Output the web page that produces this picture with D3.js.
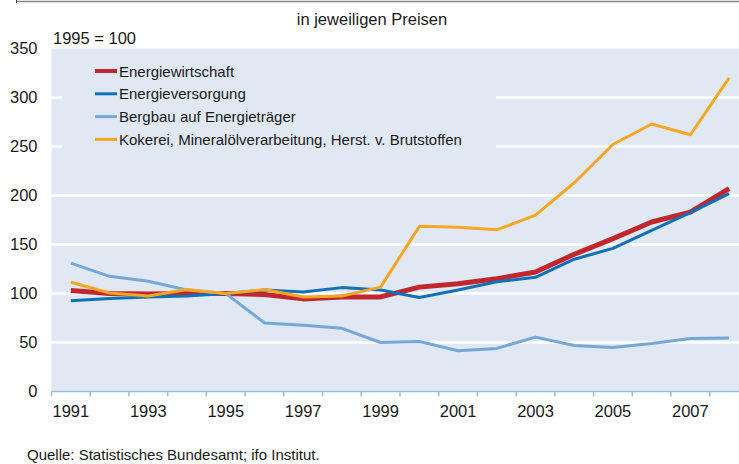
<!doctype HTML>
<html>
<head>
    <meta charset="utf-8">
    <style>
        body { margin: 0; background: #fff; }
        svg text { font-family: "Liberation Sans", Arial, sans-serif; fill: #1a1a1a; }
    </style>
    <script src="https://d3js.org/d3.v7.min.js"></script>
</head>
<body>
<script>
    // data (1995 = 100)
    var years = [1991, 1992, 1993, 1994, 1995, 1996, 1997, 1998, 1999,
                 2000, 2001, 2002, 2003, 2004, 2005, 2006, 2007, 2008];
    var seriesNames = ["Energiewirtschaft", "Energieversorgung", "Bergbau auf Energieträger",
                       "Kokerei, Mineralölverarbeitung, Herst. v. Brutstoffen"];
    var energiewirtschaft = [103, 100, 99.5, 100, 100, 99, 94.5, 96.5, 96.5,
                             106.5, 110, 115, 122, 140, 156, 173, 183, 207];
    var energieversorgung = [92.5, 95, 96.5, 97.5, 100, 103.5, 101.5, 106, 103.5,
                             96, 103.5, 112, 116.5, 135, 146, 164.5, 182.5, 202];
    var bergbau = [131, 117.5, 112.5, 103.5, 100, 70, 67.5, 64.5, 50,
                   51, 41.5, 44, 55.5, 47, 45, 49, 54, 54.5];
    var kokerei = [111.5, 100.5, 97.5, 104, 100, 104, 96.5, 97.5, 106.5,
                   168.5, 167.5, 165, 180, 213, 252, 273, 262, 320];
    var yTicks = [0, 50, 100, 150, 200, 250, 300, 350];
    var gridTicks = [50, 100, 150, 200, 250, 300];

    var colors = ["#c1272d", "#1170b9", "#76a8d7", "#f6a623"];
    var widths = [5, 3, 3, 3];

    var canvasWidth = 739;
    var canvasHeight = 464;

    var svg = d3.select("body").append("svg")
        .attr("width", canvasWidth)
        .attr("height", canvasHeight);

    var left = 51.5, bottom = 391.5;
    var band = 38.72;

    var xScale = d3.scaleBand()
        .domain(years)
        .range([left, left + years.length * band])
        .paddingInner(0).paddingOuter(0);
    var yScale = d3.scaleLinear()
        .domain([0, 350])
        .range([bottom, bottom - 350 * 0.98]);

    // frame line of the box above
    svg.append("line").attr("x1", 16.5).attr("x2", canvasWidth).attr("y1", 1.5).attr("y2", 1.5)
        .attr("stroke", "#8a8a8a").attr("stroke-width", 1.5);
    svg.append("line").attr("x1", 16.5).attr("x2", 16.5).attr("y1", 0).attr("y2", 3)
        .attr("stroke", "#333").attr("stroke-width", 1);

    // plot background
    svg.append("rect")
        .attr("x", left).attr("y", yScale(350))
        .attr("width", canvasWidth - left).attr("height", bottom - yScale(350))
        .attr("fill", "#e0e8f3");

    // white gridlines
    svg.selectAll(".grid")
        .data(gridTicks)
        .enter().append("line")
        .attr("class", "grid")
        .attr("x1", left).attr("x2", canvasWidth)
        .attr("y1", function(d) { return yScale(d); })
        .attr("y2", function(d) { return yScale(d); })
        .attr("stroke", "#fff").attr("stroke-width", 2.5);

    // legend box covers the gridlines
    svg.append("rect")
        .attr("x", 62).attr("y", 56).attr("width", 434).attr("height", 104)
        .attr("fill", "#e0e8f3");

    // y axis
    var yAxis = svg.append("g")
        .attr("transform", "translate(" + left + ",0)")
        .call(d3.axisLeft(yScale).tickValues(yTicks).tickSize(0).tickPadding(14));
    yAxis.select(".domain").remove();
    yAxis.selectAll("text").style("font-size", "16.5px").attr("fill", "#1a1a1a");

    // x axis: labels in the band centres, ticks on the band edges
    var xAxis = svg.append("g")
        .attr("transform", "translate(0," + bottom + ")")
        .call(d3.axisBottom(xScale).tickSize(0).tickPadding(14)
            .tickFormat(function(d) { return d % 2 === 1 ? d : ""; }));
    xAxis.select(".domain").remove();
    xAxis.selectAll("text").style("font-size", "16.5px").attr("fill", "#1a1a1a");

    svg.append("line")
        .attr("x1", left).attr("x2", canvasWidth)
        .attr("y1", bottom).attr("y2", bottom)
        .attr("stroke", "#9bbde0").attr("stroke-width", 1.5);
    svg.selectAll(".xtick")
        .data(years)
        .enter().append("line")
        .attr("class", "xtick")
        .attr("x1", function(d) { return xScale(d); })
        .attr("x2", function(d) { return xScale(d); })
        .attr("y1", bottom).attr("y2", bottom + 5)
        .attr("stroke", "#9bbde0").attr("stroke-width", 1.5);

    // lines, drawn in series order
    var allSeries = [energiewirtschaft, energieversorgung, bergbau, kokerei];
    var line = d3.line()
        .x(function(d, i) { return xScale(years[i]) + xScale.bandwidth() / 2; })
        .y(function(d) { return yScale(d); });

    allSeries.forEach(function(s, k) {
        svg.append("path")
            .datum(s)
            .attr("fill", "none")
            .attr("stroke", colors[k])
            .attr("stroke-width", widths[k])
            .attr("stroke-linejoin", "round")
            .attr("d", line);
    });

    // legend
    var legend = svg.selectAll(".legend")
        .data(seriesNames)
        .enter().append("g")
        .attr("class", "legend")
        .attr("transform", function(d, i) { return "translate(95," + (71 + i * 22.8) + ")"; });
    legend.append("line")
        .attr("x1", 0).attr("x2", 22).attr("y1", 0).attr("y2", 0)
        .attr("stroke", function(d, i) { return colors[i]; })
        .attr("stroke-width", function(d, i) { return i === 0 ? 4 : 3; });
    legend.append("text")
        .attr("x", 24).attr("y", 5.5)
        .style("font-size", "15px")
        .text(function(d) { return d; });

    // texts
    svg.append("text").attr("x", 372).attr("y", 25).attr("text-anchor", "middle")
        .style("font-size", "16.5px").text("in jeweiligen Preisen");
    svg.append("text").attr("x", 53).attr("y", 44)
        .style("font-size", "16.5px").text("1995 = 100");
    svg.append("text").attr("x", 27).attr("y", 460)
        .style("font-size", "15px").text("Quelle: Statistisches Bundesamt; ifo Institut.");
</script>
</body>
</html>
